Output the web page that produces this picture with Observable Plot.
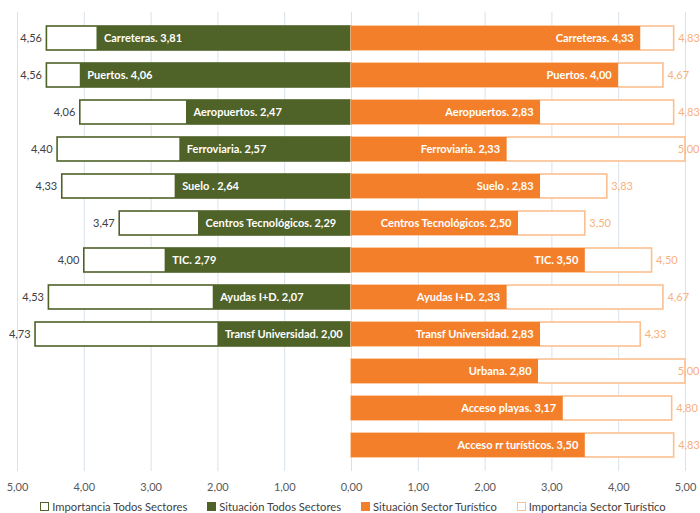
<!DOCTYPE html>
<html>
<head>
<meta charset="utf-8">
<script src="https://cdn.jsdelivr.net/npm/d3@7"></script>
<script src="https://cdn.jsdelivr.net/npm/@observablehq/plot@0.6"></script>
<style>
  html, body { margin: 0; padding: 0; background: #fff; }
  body { width: 700px; height: 513px; overflow: hidden; font-family: Lato, "Open Sans", sans-serif; }
  #legend { display: flex; justify-content: center; gap: 20px; font-size: 11.2px; color: #404040; margin-top: 0px; padding-left: 6px; }
  #legend .item { display: flex; align-items: center; gap: 3px; }
  #legend .sw { width: 9px; height: 9px; box-sizing: border-box; }
</style>
</head>
<body>
<div id="chart"></div>
<div id="legend"></div>
<script>
const categories = ["Carreteras","Puertos","Aeropuertos","Ferroviaria","Suelo ","Centros Tecnológicos","TIC","Ayudas I+D","Transf Universidad","Urbana","Acceso playas","Acceso rr turísticos"];
const importanciaTodos = [4.56,4.56,4.06,4.40,4.33,3.47,4.00,4.53,4.73,null,null,null];
const situacionTodos   = [3.81,4.06,2.47,2.57,2.64,2.29,2.79,2.07,2.00,null,null,null];
const situacionTuristico   = [4.33,4.00,2.83,2.33,2.83,2.50,3.50,2.33,2.83,2.80,3.17,3.50];
const importanciaTuristico = [4.83,4.67,4.83,5.00,3.83,3.50,4.50,4.67,4.33,5.00,4.80,4.83];
const xTicks = [-5,-4,-3,-2,-1,0,1,2,3,4,5];
const seriesNames = ["Importancia Todos Sectores","Situación Todos Sectores","Situación Sector Turístico","Importancia Sector Turístico"];

const GREEN = "#4F6228", ORANGE = "#F47F2B", LIGHT = "#FAC090", LIGHTTXT = "#F8B07E";
const fmt = v => d3.format(".2f")(v).replace(".", ",");

const rows = categories.map((c, i) => ({
  cat: c,
  impT: importanciaTodos[i], sitT: situacionTodos[i],
  sitS: situacionTuristico[i], impS: importanciaTuristico[i]
}));
const left = rows.filter(d => d.impT != null);

const chart = Plot.plot({
  width: 700, height: 500,
  marginTop: 12, marginBottom: 29, marginLeft: 17, marginRight: 15,
  style: { fontFamily: "Lato, 'Open Sans', sans-serif", background: "#fff" },
  x: { domain: [-5, 5], ticks: xTicks, tickFormat: d => fmt(Math.abs(d)), tickSize: 0, label: null, tickPadding: 12 },
  y: { domain: categories, axis: null, padding: 0.34 },
  marks: [
    Plot.ruleX(xTicks, { stroke: "#D9E1EA", strokeWidth: 1 }),
    Plot.barX(left, { y: "cat", x1: 0, x2: d => -d.impT, fill: "#fff", stroke: GREEN, strokeWidth: 1.6 }),
    Plot.barX(left, { y: "cat", x1: 0, x2: d => -d.sitT, fill: GREEN }),
    Plot.barX(rows, { y: "cat", x1: 0, x2: "impS", fill: "#fff", stroke: LIGHT, strokeWidth: 1.6 }),
    Plot.barX(rows, { y: "cat", x1: 0, x2: "sitS", fill: ORANGE }),
    Plot.text(left, { y: "cat", x: d => -d.sitT, text: d => `${d.cat}. ${fmt(d.sitT)}`, textAnchor: "start", dx: 7, fill: "#fff", fontWeight: "bold", fontSize: 11 }),
    Plot.text(rows, { y: "cat", x: "sitS", text: d => `${d.cat}. ${fmt(d.sitS)}`, textAnchor: "end", dx: -7, fill: "#fff", fontWeight: "bold", fontSize: 11 }),
    Plot.text(left, { y: "cat", x: d => -d.impT, text: d => fmt(d.impT), textAnchor: "end", dx: -5, fill: "#404040", fontSize: 11 }),
    Plot.text(rows.filter(d => d.impS < 5), { y: "cat", x: "impS", text: d => fmt(d.impS), textAnchor: "start", dx: 4, fill: LIGHTTXT, fontSize: 11 }),
    Plot.text(rows.filter(d => d.impS >= 5), { y: "cat", x: "impS", text: d => fmt(d.impS), textAnchor: "end", dx: 14, fill: LIGHTTXT, fontSize: 11 })
  ]
});
chart.querySelectorAll("g[aria-label='x-axis tick label']").forEach(e => { e.setAttribute("fill", "#595959"); e.style.fontSize = "11px"; });
document.getElementById("chart").appendChild(chart);

const sw = [
  { border: GREEN, fill: "#fff" },
  { border: GREEN, fill: GREEN },
  { border: ORANGE, fill: ORANGE },
  { border: LIGHT, fill: "#fff" }
];
const legend = document.getElementById("legend");
seriesNames.forEach((n, i) => {
  const it = document.createElement("div"); it.className = "item";
  const s = document.createElement("div"); s.className = "sw";
  s.style.background = sw[i].fill; s.style.border = `1.6px solid ${sw[i].border}`;
  const t = document.createElement("span"); t.textContent = n;
  it.appendChild(s); it.appendChild(t); legend.appendChild(it);
});
</script>
</body>
</html>
